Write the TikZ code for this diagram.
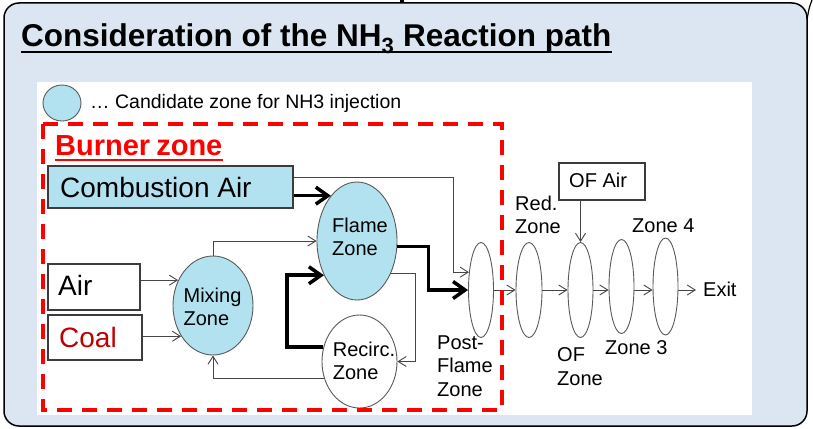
\documentclass[tikz,border=0pt]{standalone}
\usepackage{fontspec}
\setmainfont{Liberation Sans}
\usetikzlibrary{arrows.meta,shapes.geometric}

\definecolor{framebg}{RGB}{220,230,242}
\definecolor{zonefill}{RGB}{178,226,240}
\definecolor{zoneline}{RGB}{90,90,90}
\definecolor{boxline}{RGB}{60,60,60}
\definecolor{wire}{RGB}{70,70,70}
\definecolor{coalred}{RGB}{192,0,0}

\begin{document}
\begin{tikzpicture}[x=1pt,y=-1pt,
  txt/.style={inner sep=0pt, font=\fontsize{20}{23.5}\selectfont},
  bigtxt/.style={inner sep=0pt, font=\fontsize{28}{32}\selectfont},
  zone/.style={ellipse, draw=zoneline, line width=0.9pt, inner sep=0pt},
  box/.style={rectangle, draw=boxline, line width=1.1pt, inner sep=0pt},
  thinarr/.style={draw=wire, line width=0.9pt,
    -{Straight Barb[length=8pt,width=10pt]}},
  thickarr/.style={draw=black, line width=3.5pt,
    -{Straight Barb[length=12pt,width=17pt]}}]
\useasboundingbox (0,0) rectangle (813,428);

% slide frame
\draw[fill=framebg, line width=1.5pt, rounded corners=15pt] (4,3) rectangle (807,426);
\draw[line width=1.2pt] (812,0) .. controls (809,8) .. (807,20);
\fill (400,0) rectangle (404,2);

% title
\node[anchor=base west, inner sep=0pt, font=\bfseries\fontsize{31.5}{34}\selectfont]
  (title) at (21,47) {Consideration of the NH\textsubscript{3} Reaction path};
\draw[line width=2pt] ([yshift=-5pt]title.base west) -- ([yshift=-5pt]title.base east);

% white panel
\fill[white] (37,82) rectangle (752,415);

% legend
\node[zone, fill=zonefill, minimum width=38pt, minimum height=36pt] (legend) at (62,103) {};
\node[txt, anchor=base west, font=\fontsize{19.5}{22}\selectfont] (legendtxt) at (90,108)
  {… Candidate zone for NH3 injection};

% burner zone heading
\node[anchor=base west, inner sep=0pt, text=red, font=\bfseries\fontsize{29}{32}\selectfont]
  (bz) at (55,155) {Burner\hspace{-2pt} zone};
\draw[red, line width=1.2pt] ([yshift=-5pt]bz.base west) -- ([yshift=-5pt]bz.base east);

% inputs
\node[box, fill=zonefill, minimum width=245pt, minimum height=42pt] (ca) at (170.5,187) {};
\node[bigtxt, anchor=base west] (catxt) at (60,197) {Combustion Air};
\node[box, fill=white, minimum width=92pt, minimum height=46pt] (air) at (94,287) {};
\node[bigtxt, anchor=base west] (airtxt) at (58,295) {Air};
\node[box, fill=white, minimum width=94pt, minimum height=45pt] (coal) at (95,337.5) {};
\node[bigtxt, anchor=base west, text=coalred] (coaltxt) at (59,347) {Coal};

% burner zones
\node[zone, fill=zonefill, minimum width=80pt, minimum height=118pt] (flame) at (357,241) {};
\node[txt, align=left] (flametxt) at (360,237) {Flame\\Zone};
\node[zone, fill=zonefill, minimum width=80pt, minimum height=99pt] (mix) at (213,305.5) {};
\node[txt, align=left] (mixtxt) at (212.5,307) {Mixing\\Zone};
\node[zone, fill=white, minimum width=75pt, minimum height=93pt] (recirc) at (359.5,361.5) {};
\node[txt, align=left] (recirctxt) at (364,361) {Recirc.\\Zone};

% furnace zones
\node[zone, fill=white, minimum width=25pt, minimum height=95pt] (post) at (481,290) {};
\node[zone, fill=white, minimum width=26pt, minimum height=95pt] (red) at (529,290) {};
\node[zone, fill=white, minimum width=25pt, minimum height=95pt] (of) at (580.5,290) {};
\node[zone, fill=white, minimum width=25pt, minimum height=94pt] (z3) at (621.5,286.5) {};
\node[zone, fill=white, minimum width=25pt, minimum height=97pt] (z4) at (665.5,286.5) {};

\node[txt, align=left, anchor=west] (posttxt) at (437,366) {Post-\\Flame\\Zone};
\node[txt, align=left, anchor=west] (redtxt) at (515,215) {Red.\\Zone};
\node[txt, align=left, anchor=west] (oftxt) at (557,366.5) {OF\\Zone};
\node[txt, anchor=base west] (z3txt) at (605,354) {Zone 3};
\node[txt, anchor=base west] (z4txt) at (632,232) {Zone 4};

\node[box, fill=white, minimum width=86pt, minimum height=37pt] (ofair) at (602,181.5) {};
\node[txt, anchor=base west] (ofairtxt) at (569,187) {OF Air};
\node[txt, anchor=base west] (exit) at (703,296) {Exit};

% connectors in the burner
\draw[thinarr] ([yshift=10pt]ca.east) -| ([xshift=-16pt]post.124) -- (post.124);
\draw[thickarr] (flame.120 -| ca.east) -- (flame.120);
\draw[thinarr] (mix.north) |- (flame.west);
\draw[thinarr] (mix.144 -| air.east) -- (mix.144);
\draw[thinarr] (mix.224 -| coal.east) -- (mix.224);
\draw[thinarr] (recirc.206) -| (mix.south);
\draw[thickarr] (recirc.158) -| ([xshift=-37pt]flame.226) -- (flame.226);
\draw[thinarr] (flame.-44) -| ([xshift=18pt]recirc.east) -- (recirc.east);
\draw[thickarr] (flame.-8) -- ++(31,0) |- (post.west);

% connectors through the furnace
\draw[thinarr] (post.east) -- (red.west);
\draw[thinarr] (red.east) -- (of.west);
\draw[thinarr] (of.east) -- (of.east -| z3.west);
\draw[thinarr] (z3.east |- of.east) -- (of.east -| z4.west);
\draw[thinarr] (z4.east |- of.east) -- ([xshift=-7pt]exit.west |- of.east);
\draw[thinarr] (of.north |- ofair.south) -- (of.north);

% dashed burner boundary, drawn over the outlet line
\draw[red, line width=4pt, dash pattern=on 15pt off 10pt] (43,124) rectangle (502,410);
\end{tikzpicture}
\end{document}
